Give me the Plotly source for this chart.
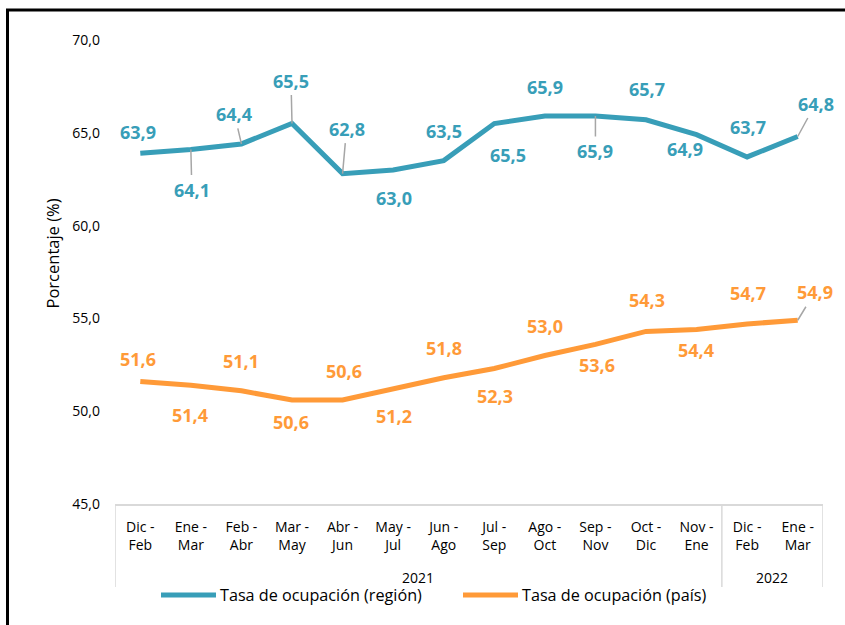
import plotly.graph_objects as go

periods = ["Dic -<br>Feb", "Ene -<br>Mar", "Feb -<br>Abr", "Mar -<br>May", "Abr -<br>Jun",
           "May -<br>Jul", "Jun -<br>Ago", "Jul -<br>Sep", "Ago -<br>Oct", "Sep -<br>Nov",
           "Oct -<br>Dic", "Nov -<br>Ene", "Dic -<br>Feb", "Ene -<br>Mar"]
years = ["2021"] * 12 + ["2022"] * 2
region = [63.9, 64.1, 64.4, 65.5, 62.8, 63.0, 63.5, 65.5, 65.9, 65.9, 65.7, 64.9, 63.7, 64.8]
pais = [51.6, 51.4, 51.1, 50.6, 50.6, 51.2, 51.8, 52.3, 53.0, 53.6, 54.3, 54.4, 54.7, 54.9]
y_ticks = [45, 50, 55, 60, 65, 70]

name_region = "Tasa de ocupación (región)"
name_pais = "Tasa de ocupación (país)"

BLUE = "#389EB8"
ORANGE = "#FF9A38"
GREY = "#A6A6A6"
BOX = "#D9D9D9"
FONT = "Open Sans"

# label placement (pixel offsets from point) and leader-line flags
region_off = [(-2, -21), (1, 40), (-7, -30), (-1, -43), (4, -45), (1, 28), (0, -30),
              (14, 31), (0, -29), (0, 35), (1, -31), (-12, 14), (1, -30), (18, -33)]
region_lead = [False, True, True, True, True, False, False, False, False, True,
               False, False, False, True]
pais_off = [(-2, -23), (-1, 30), (0, -30), (-1, 22), (1, -29), (1, 27), (0, -30),
            (1, 27), (0, -30), (2, 21), (1, -31), (-1, 20), (1, -31), (17, -28)]
pais_lead = [False] * 13 + [True]

xs = list(range(len(periods)))

fig = go.Figure()
fig.add_trace(go.Scatter(x=xs, y=region, mode="lines", name=name_region,
                         line=dict(color=BLUE, width=5), showlegend=False))
fig.add_trace(go.Scatter(x=xs, y=pais, mode="lines", name=name_pais,
                         line=dict(color=ORANGE, width=5), showlegend=False))

def fmt(v):
    return f"{v:.1f}".replace(".", ",")

annotations = []
for vals, offs, leads, col in [(region, region_off, region_lead, BLUE),
                               (pais, pais_off, pais_lead, ORANGE)]:
    for i, v in enumerate(vals):
        ax, ay = offs[i]
        annotations.append(dict(
            x=i, y=v, xref="x", yref="y", text=fmt(v), showarrow=True,
            ax=ax, ay=ay, arrowhead=0, arrowwidth=1.5,
            arrowcolor=GREY if leads[i] else "rgba(0,0,0,0)",
            font=dict(family=FONT, size=18, color=col, weight="bold"),
            borderpad=2))

# year group labels
groups = {}
for i, yv in enumerate(years):
    groups.setdefault(yv, []).append(i)

def px2xp(px):
    return (px - 115) / 708

def py2yp(py):
    return (504 - py) / 464

for yv, idx in groups.items():
    annotations.append(dict(x=(idx[0] + idx[-1]) / 2, y=py2yp(577), xref="x", yref="paper",
                            text=yv, showarrow=False, yanchor="middle",
                            font=dict(family=FONT, size=14, color="#000000")))

# y-axis title
annotations.append(dict(x=px2xp(39), y=py2yp(254), xref="paper", yref="paper",
                        text="Porcentaje (%)", textangle=-90, showarrow=False,
                        font=dict(family=FONT, size=16.5, color="#000000")))

# manual legend
leg_y = py2yp(595)
shapes = []
for x0, x1, tx, col, nm in [(161, 216, 218, BLUE, name_region),
                            (463, 518, 520, ORANGE, name_pais)]:
    shapes.append(dict(type="line", xref="paper", yref="paper",
                       x0=px2xp(x0), x1=px2xp(x1), y0=leg_y, y1=leg_y,
                       line=dict(color=col, width=5)))
    annotations.append(dict(x=px2xp(tx), y=leg_y, xref="paper", yref="paper",
                            text=nm, showarrow=False, xanchor="left", yanchor="middle",
                            font=dict(family=FONT, size=16.2, color="#000000")))

# category box dividers
bottom = py2yp(587)
boundaries = [-0.5]
for i in range(1, len(years)):
    if years[i] != years[i - 1]:
        boundaries.append(i - 0.5)
boundaries.append(len(years) - 0.5)
for b in boundaries:
    shapes.append(dict(type="line", xref="x", yref="paper", x0=b, x1=b, y0=0, y1=bottom,
                       line=dict(color=BOX, width=1.5)))

# outer border
shapes.append(dict(type="rect", xref="paper", yref="paper",
                   x0=px2xp(7.5), x1=px2xp(870), y0=py2yp(10), y1=py2yp(650),
                   line=dict(color="#000000", width=3)))

fig.update_layout(
    width=845, height=625,
    margin=dict(l=115, r=22, t=40, b=121),
    paper_bgcolor="white", plot_bgcolor="white",
    separators=",.",
    font=dict(family=FONT, size=14, color="#000000"),
    xaxis=dict(range=[-0.5, len(periods) - 0.5], tickmode="array", tickvals=xs,
               ticktext=periods, showgrid=False, zeroline=False, showline=True,
               linecolor=BOX, linewidth=1.5, ticks="", ticklabelstandoff=9,
               tickfont=dict(family=FONT, size=14, color="#000000"), fixedrange=True),
    yaxis=dict(range=[45, 70], tickmode="array", tickvals=y_ticks, tickformat=".1f",
               showgrid=False, zeroline=False, showline=False, ticks="",
               ticklabelstandoff=14,
               tickfont=dict(family=FONT, size=14, color="#000000"), fixedrange=True),
    annotations=annotations, shapes=shapes,
)

fig.write_html("out.html", config={"displayModeBar": False},
               post_script="document.body.style.margin='0px';")
